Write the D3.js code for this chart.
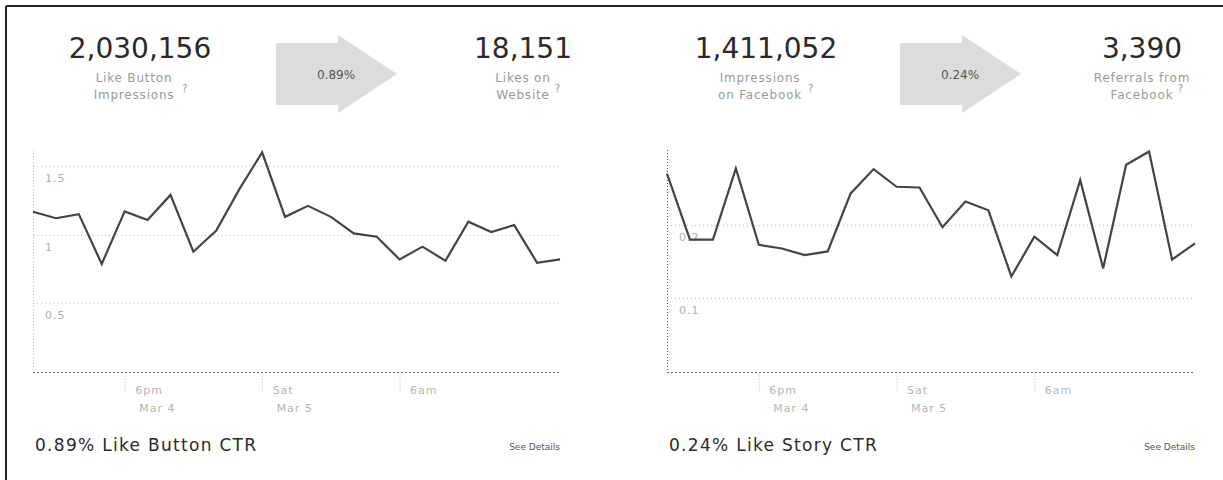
<!DOCTYPE html>
<html>
<head>
<meta charset="utf-8">
<script src="https://cdn.jsdelivr.net/npm/d3@7/dist/d3.min.js"></script>
<style>
  html, body { margin: 0; padding: 0; background: #fff; }
  svg { display: block; font-family: "DejaVu Sans", Verdana, sans-serif; }
</style>
</head>
<body>
<svg id="chart" width="1223" height="480"></svg>
<script>
// ---------- DATA ----------
const hours = [
  "2011-03-04T14:00","2011-03-04T15:00","2011-03-04T16:00","2011-03-04T17:00",
  "2011-03-04T18:00","2011-03-04T19:00","2011-03-04T20:00","2011-03-04T21:00",
  "2011-03-04T22:00","2011-03-04T23:00","2011-03-05T00:00","2011-03-05T01:00",
  "2011-03-05T02:00","2011-03-05T03:00","2011-03-05T04:00","2011-03-05T05:00",
  "2011-03-05T06:00","2011-03-05T07:00","2011-03-05T08:00","2011-03-05T09:00",
  "2011-03-05T10:00","2011-03-05T11:00","2011-03-05T12:00","2011-03-05T13:00"
];
const likeButtonCTR = [1.167,1.12,1.15,0.787,1.17,1.107,1.29,0.876,1.03,1.33,1.60,1.13,
                       1.21,1.13,1.01,0.985,0.82,0.913,0.81,1.095,1.02,1.07,0.796,0.82];
const likeStoryCTR  = [0.27,0.18,0.18,0.277,0.173,0.168,0.159,0.164,0.243,0.276,0.252,0.251,
                       0.197,0.232,0.22,0.13,0.184,0.159,0.261,0.141,0.282,0.30,0.153,0.175];
const xTickTimes  = ["2011-03-04T18:00","2011-03-05T00:00","2011-03-05T06:00"];
const xTickLines1 = ["6pm","Sat","6am"];
const xTickLines2 = ["Mar 4","Mar 5",""];
const leftYTicks  = [0.5, 1, 1.5];
const rightYTicks = [0.1, 0.2];
const leftYMax = 1.617, rightYMax = 0.302;

const leftTop  = {from:"2,030,156", fromLabel:["Like Button","Impressions"], rate:"0.89%",
                  to:"18,151", toLabel:["Likes on","Website"]};
const rightTop = {from:"1,411,052", fromLabel:["Impressions","on Facebook"], rate:"0.24%",
                  to:"3,390", toLabel:["Referrals from","Facebook"]};
const leftFooter  = "0.89% Like Button CTR";
const rightFooter = "0.24% Like Story CTR";
const detailsText = "See Details";

// ---------- DRAW ----------
const svg = d3.select("#chart");
svg.append("rect").attr("width",1223).attr("height",480).attr("fill","#fff");
// frame (top + left)
svg.append("line").attr("x1",6).attr("y1",6).attr("x2",1223).attr("y2",6)
   .attr("stroke","#222").attr("stroke-width",2);
svg.append("line").attr("x1",6).attr("y1",6).attr("x2",6).attr("y2",480)
   .attr("stroke","#222").attr("stroke-width",2);

const parse = d3.isoParse;

function header(cfg, g) {
  // big numbers
  g.append("text").attr("x",cfg.fromX).attr("y",58).attr("text-anchor","middle")
    .attr("font-size",28).attr("fill","#2a2a2a").text(cfg.d.from);
  g.append("text").attr("x",cfg.toX).attr("y",58).attr("text-anchor","middle")
    .attr("font-size",28).attr("fill","#2a2a2a").text(cfg.d.to);
  // sub labels
  [[cfg.fromX - 6, cfg.d.fromLabel],[cfg.toX, cfg.d.toLabel]].forEach(([cx, lines]) => {
    const t = g.append("text").attr("text-anchor","middle").attr("font-size",12)
      .attr("fill","#9a9a9a").attr("letter-spacing",0.8);
    lines.forEach((ln,i) => t.append("tspan").attr("x",cx).attr("y",82 + i*17).text(ln));
    const w = lines[1].length * 8.2;
    g.append("text").attr("x",cx + w/2 + 3).attr("y",92).attr("font-size",10)
      .attr("fill","#9a9a9a").text("?");
  });
  // arrow
  const ax = cfg.arrowX;
  const pts = [[ax,43],[ax+62,43],[ax+62,35],[ax+121,74],[ax+62,113],[ax+62,105],[ax,105]];
  g.append("path").attr("d", d3.line()(pts) + "Z").attr("fill","#dcdcdc");
  g.append("text").attr("x",ax+60).attr("y",79).attr("text-anchor","middle")
    .attr("font-size",12).attr("fill","#555").text(cfg.d.rate);
}

function chart(cfg) {
  const g = svg.append("g");
  const x = d3.scaleTime().domain([parse(hours[0]), parse(hours[hours.length-1])])
              .range([cfg.x0, cfg.x1]);
  const y = d3.scaleLinear().domain([0, cfg.ymax]).range([372, 150]);

  // gridlines
  g.selectAll(".grid").data(cfg.yticks).join("line")
    .attr("x1",cfg.x0).attr("x2",cfg.x1)
    .attr("y1",d=>Math.round(y(d))+0.5).attr("y2",d=>Math.round(y(d))+0.5)
    .attr("stroke","#bdbdbd").attr("stroke-dasharray","1,3");
  g.selectAll(".ylab").data(cfg.yticks).join("text")
    .attr("x",cfg.x0+12).attr("y",d=>y(d)+16).attr("font-size",11)
    .attr("fill","#b0b0b0").attr("letter-spacing",1).text(d=>d3.format("")(d));

  // left axis
  g.append("line").attr("x1",cfg.x0+0.5).attr("x2",cfg.x0+0.5).attr("y1",150).attr("y2",372)
    .attr("stroke",cfg.leftAxisColor).attr("stroke-dasharray","1,2");
  // bottom axis via d3.axisBottom
  const axis = d3.axisBottom(x).tickValues(xTickTimes.map(parse))
    .tickSize(20).tickPadding(0).tickFormat("");
  const ag = g.append("g").attr("transform","translate(0,372.5)").call(axis);
  ag.select(".domain").attr("stroke","#666").attr("stroke-dasharray","2,2").attr("d",`M${cfg.x0},0H${cfg.x1}`);
  ag.selectAll(".tick line").attr("stroke","#bbb").attr("stroke-dasharray","1,2");
  ag.selectAll(".tick").each(function(d,i){
    const t = d3.select(this);
    t.append("text").attr("x",10).attr("y",21).attr("text-anchor","start")
      .attr("font-size",11).attr("fill","#b5b5b5").attr("letter-spacing",1)
      .attr("font-family","DejaVu Sans").text(xTickLines1[i]);
    if (xTickLines2[i]) t.append("text").attr("x",14).attr("y",39).attr("text-anchor","start")
      .attr("font-size",11).attr("fill","#b5b5b5").attr("letter-spacing",1)
      .attr("font-family","DejaVu Sans").text(xTickLines2[i]);
  });

  // data line
  const line = d3.line().x((d,i)=>x(parse(hours[i]))).y(d=>y(d));
  g.append("path").datum(cfg.values).attr("d",line).attr("fill","none")
    .attr("stroke","#444").attr("stroke-width",2.2).attr("stroke-linejoin","miter");

  // footer
  g.append("text").attr("x",cfg.x0+2).attr("y",451).attr("font-size",17)
    .attr("fill","#2a2a2a").attr("letter-spacing",1.3).text(cfg.footer);
  g.append("text").attr("x",cfg.x1).attr("y",450).attr("text-anchor","end").attr("font-size",9)
    .attr("fill","#555").text(detailsText);

  header(cfg, g);
}

chart({x0:33, x1:560, ymax:leftYMax, yticks:leftYTicks, values:likeButtonCTR,
       footer:leftFooter, leftAxisColor:"#bbb",
       d:leftTop, fromX:140, toX:523, arrowX:276});
chart({x0:667, x1:1195, ymax:rightYMax, yticks:rightYTicks, values:likeStoryCTR,
       footer:rightFooter, leftAxisColor:"#555",
       d:rightTop, fromX:766, toX:1142, arrowX:900});
</script>
</body>
</html>
